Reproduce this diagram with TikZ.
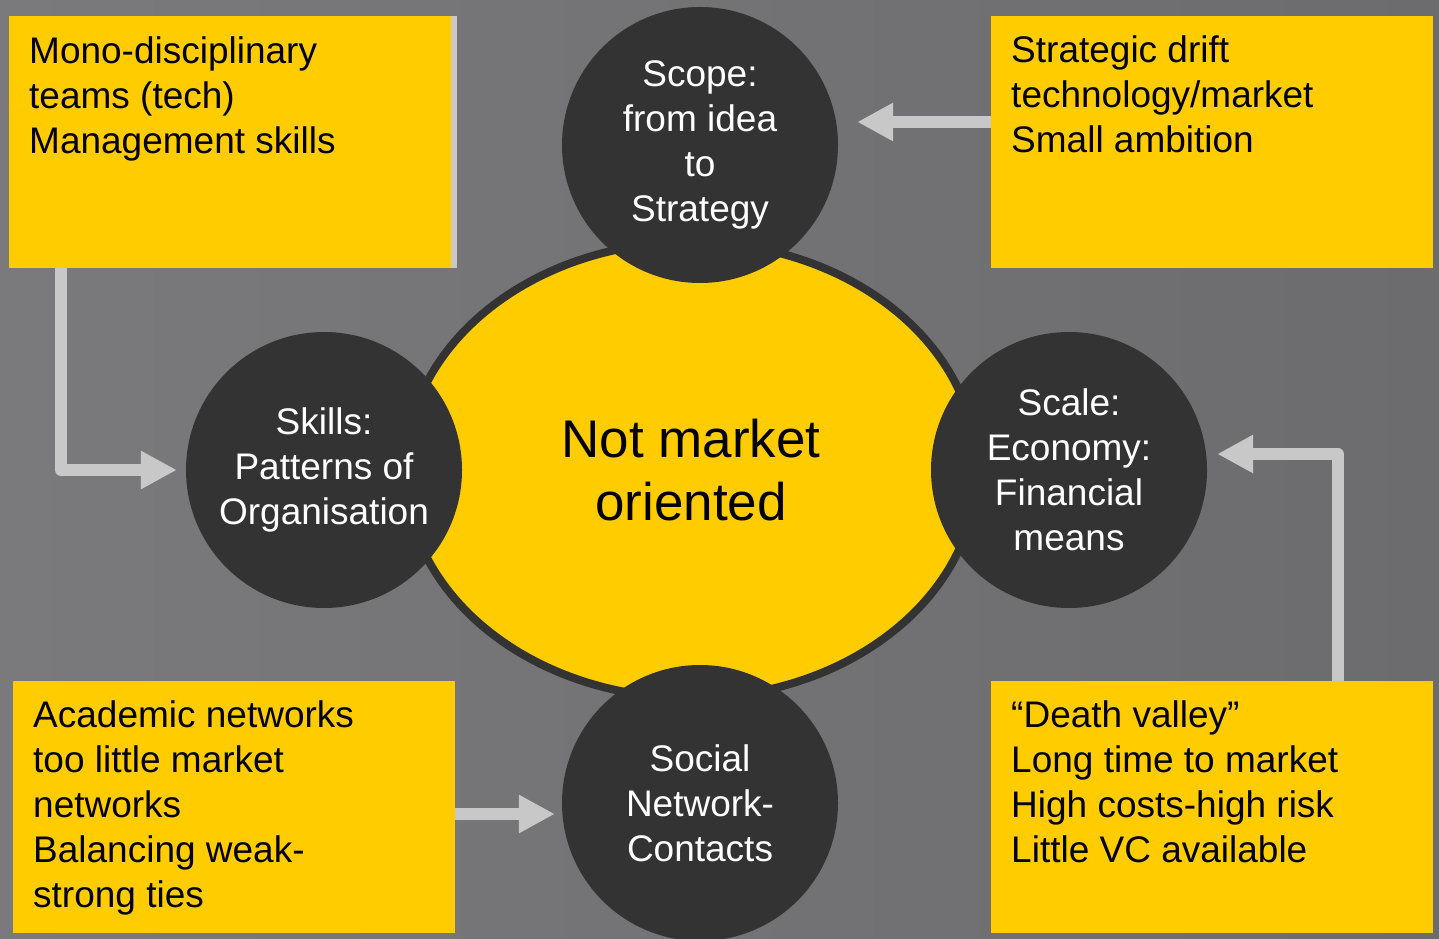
\documentclass[tikz,border=0pt]{standalone}
\usepackage{fontspec}
\setmainfont{Liberation Sans}
\usepackage{tikz}
\usetikzlibrary{arrows.meta,calc,positioning,shapes.geometric}
\definecolor{bglight}{RGB}{122,122,125}
\definecolor{bgdark}{RGB}{108,108,111}
\definecolor{boxyellow}{RGB}{255,204,0}
\definecolor{circledark}{RGB}{51,51,51}
\definecolor{arrowgrey}{RGB}{200,200,200}
\tikzstyle{infobox}=[
  fill=boxyellow,
  inner sep=0pt,
  minimum height=252pt,
  minimum width=442pt,
  outer sep=0pt,
  rectangle,
]
\tikzstyle{boxtext}=[
  align=left,
  font={\fontsize{37}{45}\selectfont},
  inner sep=0pt,
  text=black,
]
\tikzstyle{topic}=[
  align=center,
  circle,
  fill=circledark,
  font={\fontsize{37}{45}\selectfont},
  inner sep=0pt,
  minimum size=276pt,
  text=white,
]
\tikzstyle{hub}=[
  align=center,
  draw=circledark,
  ellipse,
  fill=boxyellow,
  font={\fontsize{53}{63}\selectfont},
  line width=8pt,
  minimum height=456pt,
  minimum width=572pt,
]
\tikzstyle{arrow}=[
  draw=arrowgrey,
  line join=round,
  line width=12pt,
]
\tikzset{
  >={Triangle[length=36pt,width=36pt]},
}

\begin{document}
\begin{tikzpicture}[x=1pt,y=1pt]
      \useasboundingbox (0,0) rectangle (1439,938);
      \shade [left color=bglight, right color=bgdark] (0,0) rectangle (1439,938);
      %%
      \node (hub) [hub] at (691,468) {Not market\\oriented};
      \node (scope) [topic] at (700,793) {Scope:\\from idea\\to\\Strategy};
      \node (skills) [topic] at (324,468) {Skills:\\Patterns of\\Organisation};
      \node (scale) [topic] at (1069,468) {Scale:\\Economy:\\Financial\\means};
      \node (social) [topic] at (700,135) {Social\\Network-\\Contacts};
      %%
      \node (tlbox) [infobox] at (230,796) {};
      \node (trbox) [infobox] at (1212,796) {};
      \node (blbox) [infobox] at (234,131) {};
      \node (brbox) [infobox] at (1212,131) {};
      \draw [arrowgrey, line width=6pt] ([xshift=3pt]tlbox.north east) -- ([xshift=3pt]tlbox.south east);
      %%
      \node (tltext) [boxtext, below right=20pt and 20pt of tlbox.north west]
        {Mono-disciplinary\\teams (tech)\\Management skills};
      \node (trtext) [boxtext, below right=19pt and 20pt of trbox.north west]
        {Strategic drift\\technology/market\\Small ambition};
      \node (bltext) [boxtext, below right=19pt and 20pt of blbox.north west]
        {Academic networks\\too little market\\networks\\Balancing weak-\\strong ties};
      \node (brtext) [boxtext, below right=19pt and 20pt of brbox.north west]
        {“Death valley”\\Long time to market\\High costs-high risk\\Little VC available};
      %%
      \coordinate (skillstip) at ([xshift=-9pt]skills.west);
      \coordinate (scopetip) at ([shift={(19pt,23pt)}]scope.east);
      \coordinate (scaletip) at ([shift={(10pt,16pt)}]scale.east);
      \coordinate (socialtip) at ([shift={(-7pt,-11pt)}]social.west);
      \draw [->, arrow] ([xshift=52pt]tlbox.south west) |- (skillstip);
      \draw [->, arrow] (trbox.west |- scopetip) -- (scopetip);
      \draw [->, arrow] ([xshift=347pt]brbox.north west) |- (scaletip);
      \draw [->, arrow] (blbox.east |- socialtip) -- (socialtip);
    \end{tikzpicture}
\end{document}
